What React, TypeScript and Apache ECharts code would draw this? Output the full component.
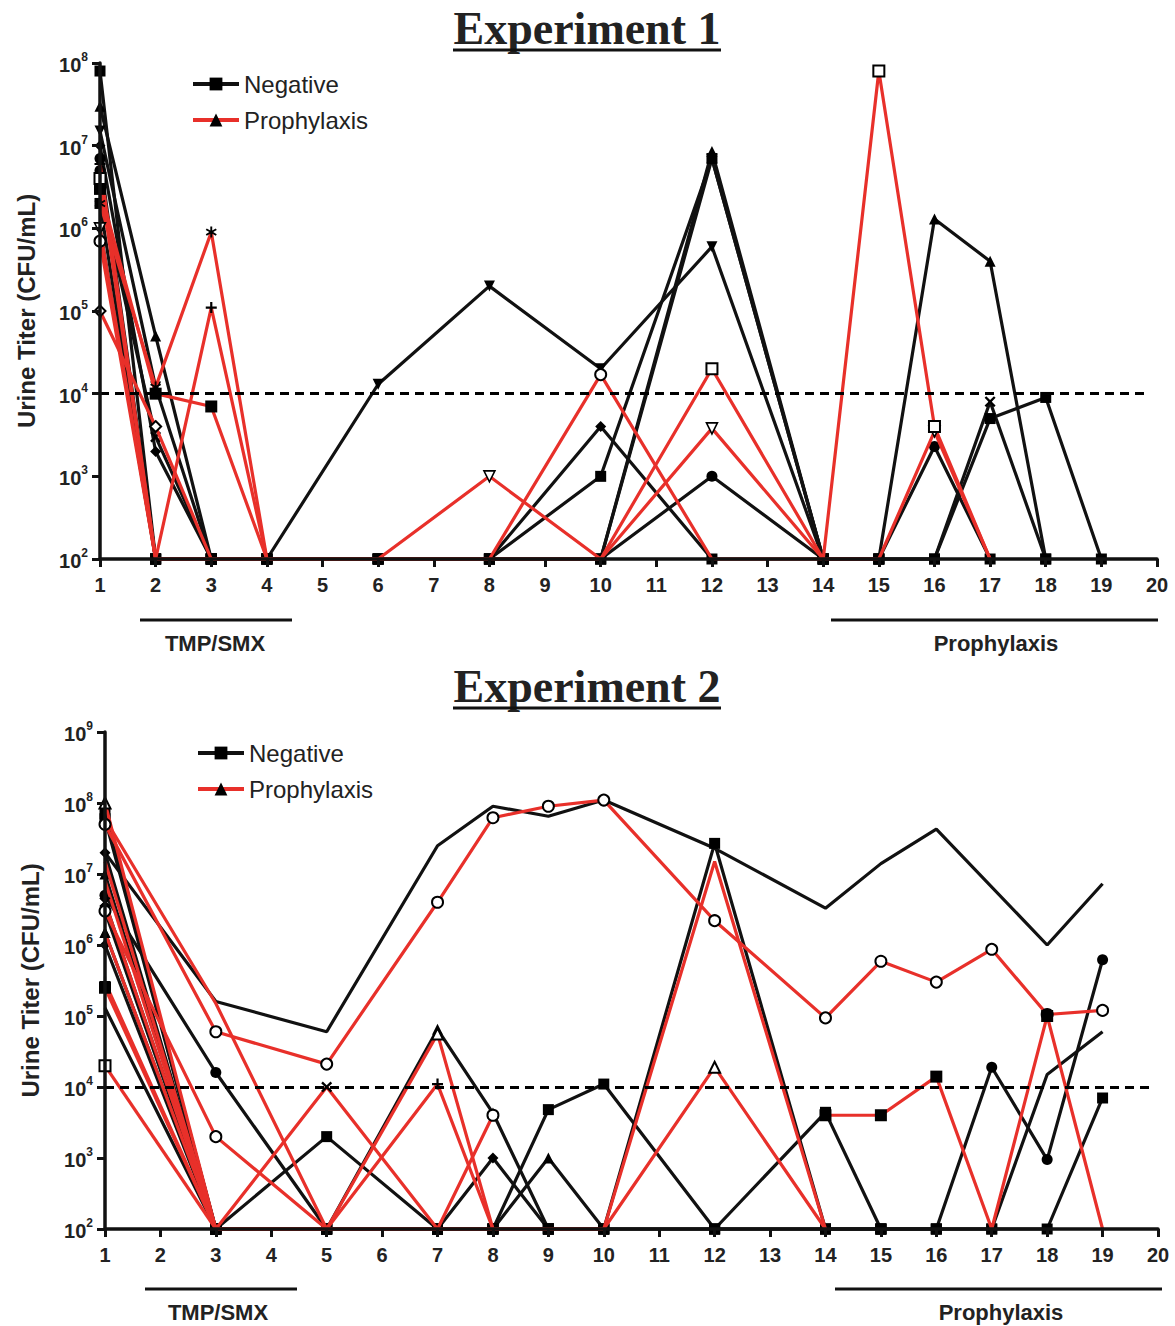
import React, { useEffect, useRef } from "react";
import * as echarts from "echarts";

const FONT = '"Liberation Sans", Arial, Helvetica, sans-serif';
const SERIF = '"Liberation Serif", "Times New Roman", serif';
const BLACK = "#111111";
const RED = "#e8302a";
const TEXT = "#222222";

// ---------- Experiment 1 (day, CFU/mL; 100 = below detection) ----------
const e1NegA = [[1, 8e7], [2, 100], [3, 100], [4, 100], [6, 100], [8, 100], [10, 1e3], [12, 7e6], [14, 100], [15, 100], [16, 100], [17, 5e3], [18, 9e3], [19, 100]];
const e1NegB = [[1, 3e7], [2, 5e4], [3, 100], [4, 100], [6, 100], [8, 100], [10, 100], [12, 8.5e6], [14, 100], [15, 100], [16, 1.3e6], [17, 4e5], [18, 100]];
const e1NegC = [[1, 1.5e7], [2, 1.2e4], [3, 100], [4, 100], [6, 1.3e4], [8, 2e5], [10, 2e4], [12, 6e5], [14, 100]];
const e1NegD = [[1, 1e7], [2, 2e3], [3, 100], [4, 100], [6, 100], [8, 100], [10, 4e3], [12, 100], [14, 100]];
const e1NegE = [[1, 5e6], [2, 100], [3, 100], [4, 100], [6, 100], [8, 100], [10, 100], [12, 1e3], [14, 100], [15, 100], [16, 2.3e3], [17, 100]];
const e1NegF = [[1, 3e6], [2, 3e3], [3, 100], [4, 100], [6, 100], [8, 100], [10, 100], [12, 7e6], [14, 100], [15, 100], [16, 100], [17, 8e3], [18, 100]];
const e1NegG = [[1, 2e6], [2, 100], [3, 100]];
const e1NegH = [[1, 7e6], [2, 100], [3, 100]];
const e1NegI = [[1, 1e6], [2, 100]];
const e1Negative = [e1NegA, e1NegB, e1NegC, e1NegD, e1NegE, e1NegF, e1NegG, e1NegH, e1NegI];
const e1NegMarkers = ["rect", "triangle", "invTri", "diamond", "circle", "cross", "rect", "circle", "diamond"];

const e1ProA = [[1, 2e6], [2, 1.2e4], [3, 9e5], [4, 100]];
const e1ProB = [[1, 6e6], [2, 100], [3, 1.1e5], [4, 100]];
const e1ProC = [[1, 3e6], [2, 1e4], [3, 7e3], [4, 100]];
const e1ProD = [[1, 1e5], [2, 4e3], [3, 100], [4, 100]];
const e1ProE = [[1, 1e6], [2, 100], [3, 100], [4, 100], [6, 100], [8, 1e3], [10, 100], [12, 3.8e3], [14, 100], [15, 100], [16, 3.5e3], [17, 100]];
const e1ProF = [[1, 7e5], [2, 100], [3, 100], [4, 100], [6, 100], [8, 100], [10, 1.7e4], [12, 100], [14, 100]];
const e1ProG = [[1, 4e6], [2, 100], [3, 100], [4, 100], [6, 100], [8, 100], [10, 100], [12, 2e4], [14, 100], [15, 8e7], [16, 4e3], [17, 100]];
const e1Prophylaxis = [e1ProA, e1ProB, e1ProC, e1ProD, e1ProE, e1ProF, e1ProG];
const e1ProMarkers = ["star", "plus", "bar", "emptyDiamond", "emptyInvTri", "emptyCircle", "emptyRect"];

// ---------- Experiment 2 ----------
const e2NegA = [[1, 2e7], [3, 1.6e5], [5, 6e4], [7, 2.5e7], [8, 9e7], [9, 6.5e7], [10, 1.1e8], [12, 2.3e7], [14, 3.3e6], [15, 1.4e7], [16, 4.3e7], [18, 1e6], [19, 7.3e6]];
const e2NegB = [[1, 7e7], [3, 100], [5, 2e3], [7, 100], [8, 100], [9, 4.8e3], [10, 1.1e4], [12, 100], [14, 4.4e3], [15, 100]];
const e2NegC = [[1, 1e7], [3, 100], [5, 100], [7, 6.5e4], [8, 4.3e3], [9, 100]];
const e2NegD = [[1, 2e7], [3, 100], [5, 100], [7, 100], [8, 1e3], [9, 100]];
const e2NegE = [[1, 1.5e6], [3, 100], [5, 100], [7, 100], [8, 100], [9, 1e3], [10, 100]];
const e2NegF = [[1, 6e7], [3, 100], [5, 100], [7, 100], [8, 100], [9, 100], [10, 100], [12, 2.7e7], [14, 100], [15, 100], [16, 100], [17, 100], [18, 100], [19, 7e3]];
const e2NegG = [[1, 5e6], [3, 1.6e4], [5, 100], [7, 100], [8, 100], [9, 100], [10, 100], [12, 100], [14, 100], [15, 100], [16, 100], [17, 1.9e4], [18, 9.5e2], [19, 6.2e5]];
const e2NegH = [[1, 1.3e5], [3, 100], [5, 100], [7, 100], [8, 100], [9, 100], [10, 100], [12, 100], [14, 100], [15, 100], [16, 100], [17, 100], [18, 1.5e4], [19, 6e4]];
const e2NegI = [[1, 4e6], [3, 100]];
const e2NegJ = [[1, 3e6], [3, 100]];
const e2NegK = [[1, 1e6], [3, 100]];
const e2Negative = [e2NegA, e2NegB, e2NegC, e2NegD, e2NegE, e2NegF, e2NegG, e2NegH, e2NegI, e2NegJ, e2NegK];
const e2NegMarkers = ["none", "rect", "triangle", "diamond", "triangle", "rect", "circle", "none", "cross", "circle", "diamond"];

const e2ProA = [[1, 5e7], [3, 6e4], [5, 2.1e4], [7, 4e6], [8, 6.2e7], [9, 9e7], [10, 1.1e8], [12, 2.2e6], [14, 9.4e4], [15, 5.9e5], [16, 3e5], [17, 8.7e5], [18, 1.05e5], [19, 1.2e5]];
const e2ProB = [[1, 4e6], [3, 100], [5, 1e4], [7, 100], [8, 100]];
const e2ProC = [[1, 3e5], [3, 100], [5, 100], [7, 1.1e4], [8, 100]];
const e2ProD = [[1, 1e8], [3, 100], [5, 100], [7, 5.6e4], [8, 100], [10, 100], [12, 1.9e4], [14, 100]];
const e2ProE = [[1, 3e6], [3, 2e3], [5, 100], [7, 100], [8, 4e3]];
const e2ProF = [[1, 2e4], [3, 100]];
const e2ProG = [[1, 1.5e7], [3, 100], [5, 100], [7, 100], [8, 100], [10, 100], [12, 1.5e7], [14, 100]];
const e2ProH = [[14, 4e3], [15, 4e3], [16, 1.4e4], [17, 100], [18, 1e5], [19, 100]];
const e2ProI = [[1, 1.5e6], [3, 100]];
const e2ProJ = [[1, 6e7], [3, 1.5e5], [5, 100]];
const e2ProK = [[1, 8e6], [3, 100]];
const e2ProL = [[1, 2.5e5], [3, 100]];
const e2Prophylaxis = [e2ProA, e2ProB, e2ProC, e2ProD, e2ProE, e2ProF, e2ProG, e2ProH, e2ProI, e2ProJ, e2ProK, e2ProL];
const e2ProMarkers = ["emptyCircle", "cross", "plus", "emptyTriangle", "emptyCircle", "emptyRect", "none", "bar", "triangle", "none", "none", "bar"];

const threshold = 1e4;
const detectionFloor = 100;

const PATHS: Record<string, string> = {
  invTri: "path://M0,0 L10,0 L5,9 Z",
  emptyInvTri: "path://M0,0 L10,0 L5,9 Z",
  plus: "path://M4,0 H6 V4 H10 V6 H6 V10 H4 V6 H0 V4 H4 Z",
  bar: "path://M4,0 H6 V10 H4 Z",
  cross: "path://M1.5,0 L5,3.5 L8.5,0 L10,1.5 L6.5,5 L10,8.5 L8.5,10 L5,6.5 L1.5,10 L0,8.5 L3.5,5 L0,1.5 Z",
  star: "path://M4.2,0 H5.8 V3.6 L8.8,1.6 L9.6,3 L6.6,5 L9.6,7 L8.8,8.4 L5.8,6.4 V10 H4.2 V6.4 L1.2,8.4 L0.4,7 L3.4,5 L0.4,3 L1.2,1.6 L4.2,3.6 Z",
};

function symbolOf(m: string) {
  return PATHS[m] || m;
}

function buildSeries(list: number[][][], markers: string[], color: string, name: string, idx: number) {
  const isRed = color === RED;
  return list.map((pts, i) => {
    const m = markers[i];
    const hollowPath = m === "emptyInvTri";
    const data = pts.map((p) =>
      p[1] === detectionFloor
        ? {
            value: p,
            symbol: isRed ? "none" : "rect",
            symbolSize: 11,
            itemStyle: { color: "#000", borderWidth: 0 },
          }
        : p
    );
    return {
      type: "line",
      name,
      xAxisIndex: idx,
      yAxisIndex: idx,
      data,
      symbol: symbolOf(m),
      symbolSize: m === "bar" ? 12 : 11,
      showSymbol: true,
      clip: false,
      silent: true,
      lineStyle: { color, width: 3.2 },
      itemStyle: hollowPath
        ? { color: "#fff", borderColor: "#000", borderWidth: 1.6 }
        : { color: "#000" },
      emphasis: { disabled: true },
      z: isRed ? 3 : 2,
    };
  });
}

function thresholdSeries(idx: number) {
  return {
    type: "line",
    name: "threshold" + idx,
    xAxisIndex: idx,
    yAxisIndex: idx,
    data: [],
    silent: true,
    markLine: {
      silent: true,
      symbol: ["none", "none"],
      label: { show: false },
      lineStyle: { color: "#000", width: 3, type: [9, 6] },
      data: [[{ coord: [1, threshold] }, { coord: [19.85, threshold] }]],
    },
  };
}

const yLabel = {
  formatter: (v: number) => `{b|10}{s|${Math.round(Math.log10(v))}}`,
  margin: 12,
  rich: {
    b: { fontSize: 20, fontWeight: "bold", fontFamily: FONT, color: TEXT, lineHeight: 24, verticalAlign: "bottom" },
    s: { fontSize: 12, fontWeight: "bold", fontFamily: FONT, color: TEXT, lineHeight: 24, verticalAlign: "top" },
  },
};

function xAxisCfg(idx: number) {
  return {
    type: "value",
    gridIndex: idx,
    min: 1,
    max: 20,
    interval: 1,
    z: 10,
    axisLine: { show: true, lineStyle: { color: BLACK, width: 3.5 } },
    axisTick: { show: true, length: 8, lineStyle: { color: BLACK, width: 3 } },
    axisLabel: { fontSize: 20, fontWeight: "bold", fontFamily: FONT, color: TEXT, margin: 16 },
    splitLine: { show: false },
  };
}

function yAxisCfg(idx: number, max: number, split: number, gap: number) {
  return {
    type: "log",
    logBase: 10,
    gridIndex: idx,
    min: 100,
    max,
    splitNumber: split,
    z: 10,
    name: "Urine Titer (CFU/mL)",
    nameLocation: "middle",
    nameGap: gap,
    nameRotate: 90,
    nameTextStyle: { fontSize: 24, fontWeight: "bold", fontFamily: FONT, color: TEXT },
    axisLine: { show: true, lineStyle: { color: BLACK, width: 3.5 } },
    axisTick: { show: true, length: 8, lineStyle: { color: BLACK, width: 3 } },
    axisLabel: yLabel,
    splitLine: { show: false },
    minorTick: { show: false },
  };
}

function legendCfg(left: number, top: number) {
  return {
    orient: "vertical",
    left,
    top,
    itemWidth: 46,
    itemHeight: 16,
    itemGap: 12,
    selectedMode: false,
    lineStyle: { width: 4 },
    textStyle: { fontSize: 24, fontFamily: FONT, color: TEXT, lineHeight: 24 },
    data: [{ name: "Negative" }, { name: "Prophylaxis" }],
  };
}

function annotations() {
  const t = (text: string, x: number, y: number, font: string) => ({
    type: "text",
    x,
    y,
    silent: true,
    style: { text, font, fill: TEXT, textAlign: "center", textVerticalAlign: "middle" },
  });
  const l = (x1: number, y1: number, x2: number, y2: number, w: number) => ({
    type: "line",
    silent: true,
    shape: { x1, y1, x2, y2 },
    style: { stroke: "#111", lineWidth: w },
  });
  const titleFont = `bold 46px ${SERIF}`;
  const noteFont = `bold 22px ${FONT}`;
  return [
    t("Experiment 1", 587, 28, titleFont),
    l(453, 50, 721, 50, 3),
    t("Experiment 2", 587, 686, titleFont),
    l(453, 708, 721, 708, 3),
    l(140, 620, 292, 620, 3),
    t("TMP/SMX", 215, 643, noteFont),
    l(831, 620, 1158, 620, 3),
    t("Prophylaxis", 996, 643, noteFont),
    l(145, 1289, 297, 1289, 3),
    t("TMP/SMX", 218, 1312, noteFont),
    l(835, 1289, 1162, 1289, 3),
    t("Prophylaxis", 1001, 1312, noteFont),
  ];
}

export default function App() {
  const ref = useRef<HTMLDivElement>(null);
  useEffect(() => {
    if (!ref.current) return;
    const chart = echarts.init(ref.current, undefined, { renderer: "svg" });
    const legendDummies = [
      {
        type: "line", name: "Negative", xAxisIndex: 0, yAxisIndex: 0, data: [],
        symbol: "rect", symbolSize: 13, lineStyle: { color: BLACK, width: 4 }, itemStyle: { color: "#000" },
      },
      {
        type: "line", name: "Prophylaxis", xAxisIndex: 0, yAxisIndex: 0, data: [],
        symbol: "triangle", symbolSize: 13, lineStyle: { color: RED, width: 4 }, itemStyle: { color: "#000" },
      },
    ];
    const option: any = {
      animation: false,
      backgroundColor: "#ffffff",
      grid: [
        { left: 100, top: 63, width: 1057, height: 496 },
        { left: 105, top: 732, width: 1053, height: 497 },
      ],
      xAxis: [xAxisCfg(0), xAxisCfg(1)],
      yAxis: [yAxisCfg(0, 1e8, 6, 62), yAxisCfg(1, 1e9, 7, 63)],
      legend: [legendCfg(186, 67), legendCfg(191, 736)],
      graphic: annotations(),
      series: [
        ...legendDummies,
        ...buildSeries(e1Negative, e1NegMarkers, BLACK, "Negative", 0),
        ...buildSeries(e1Prophylaxis, e1ProMarkers, RED, "Prophylaxis", 0),
        thresholdSeries(0),
        ...buildSeries(e2Negative, e2NegMarkers, BLACK, "Negative", 1),
        ...buildSeries(e2Prophylaxis, e2ProMarkers, RED, "Prophylaxis", 1),
        thresholdSeries(1),
      ],
    };
    chart.setOption(option);
    return () => chart.dispose();
  }, []);
  return (
    <div
      ref={ref}
      style={{ position: "absolute", left: 0, top: 0, width: 1175, height: 1326, background: "#fff" }}
    />
  );
}
